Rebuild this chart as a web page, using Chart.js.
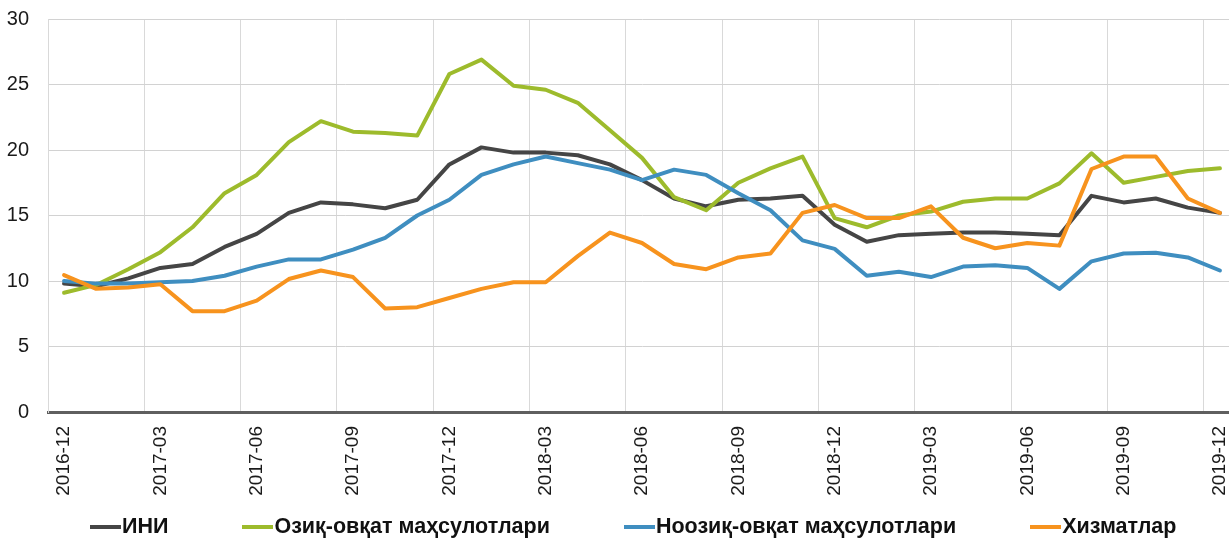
<!DOCTYPE html>
<html>
<head>
<meta charset="utf-8">
<script src="https://cdn.jsdelivr.net/npm/chart.js@4.4.1/dist/chart.umd.min.js"></script>
<style>
  html, body { margin: 0; padding: 0; background: #fff; overflow: hidden; }
  #wrap { position: relative; width: 1236px; height: 539px; }
  #legenda { position: absolute; left: 90px; top: 514px; height: 25px; display: flex; gap: 74px;
             font: bold 21.5px 'Liberation Sans', Arial, sans-serif; color: #111; white-space: nowrap; }
  #legenda .item { display: flex; align-items: center; gap: 1px; }
  #legenda .marca { display: inline-block; width: 31px; height: 4px; }
</style>
</head>
<body>
<div id="wrap"><canvas id="grafico"></canvas><div id="legenda"></div></div>
<script>
const meses = ['2016-12','2017-01','2017-02','2017-03','2017-04','2017-05','2017-06','2017-07','2017-08','2017-09','2017-10','2017-11',
               '2017-12','2018-01','2018-02','2018-03','2018-04','2018-05','2018-06','2018-07','2018-08','2018-09','2018-10','2018-11',
               '2018-12','2019-01','2019-02','2019-03','2019-04','2019-05','2019-06','2019-07','2019-08','2019-09','2019-10','2019-11','2019-12'];

const ini      = [9.8, 9.6, 10.2, 11.0, 11.3, 12.6, 13.6, 15.2, 16.0, 15.85, 15.55, 16.2,
                  18.9, 20.2, 19.8, 19.8, 19.6, 18.9, 17.7, 16.3, 15.7, 16.2, 16.3, 16.5,
                  14.3, 13.0, 13.5, 13.6, 13.7, 13.7, 13.6, 13.5, 16.5, 16.0, 16.3, 15.6, 15.2];
const ozuq     = [9.1, 9.7, 10.9, 12.2, 14.1, 16.7, 18.1, 20.6, 22.2, 21.4, 21.3, 21.1,
                  25.8, 26.9, 24.9, 24.6, 23.6, 21.5, 19.4, 16.4, 15.4, 17.5, 18.6, 19.5,
                  14.8, 14.1, 15.0, 15.3, 16.05, 16.3, 16.3, 17.45, 19.75, 17.5, 17.95, 18.4, 18.6];
const noozuq   = [10.0, 9.8, 9.8, 9.9, 10.0, 10.4, 11.1, 11.65, 11.65, 12.4, 13.3, 15.0,
                  16.2, 18.1, 18.9, 19.5, 19.0, 18.5, 17.7, 18.5, 18.1, 16.7, 15.4, 13.1,
                  12.45, 10.4, 10.7, 10.3, 11.1, 11.2, 11.0, 9.4, 11.5, 12.1, 12.15, 11.8, 10.8];
const xizmatlar = [10.45, 9.4, 9.5, 9.75, 7.7, 7.7, 8.5, 10.15, 10.8, 10.3, 7.9, 8.0,
                   8.7, 9.4, 9.9, 9.9, 11.9, 13.7, 12.9, 11.3, 10.9, 11.8, 12.1, 15.2,
                   15.8, 14.8, 14.8, 15.7, 13.3, 12.5, 12.9, 12.7, 18.55, 19.5, 19.5, 16.3, 15.2];

const nomes = ['ИНИ', 'Озиқ-овқат маҳсулотлари', 'Ноозиқ-овқат маҳсулотлари', 'Хизматлар'];
const cores = ['#454545', '#9dbb2c', '#3f8ec0', '#f7931e'];

Chart.defaults.font.family = "'Liberation Sans', Arial, sans-serif";
Chart.defaults.color = '#1a1a1a';

// Excel desenha a última série por cima: order menor = desenhado por cima
const linha = (i, data) => ({
    label: nomes[i],
    data,
    borderColor: cores[i],
    backgroundColor: cores[i],
    borderWidth: 4,
    pointRadius: 0,
    pointHoverRadius: 0,
    tension: 0,
    borderJoinStyle: 'round',
    borderCapStyle: 'round',
    order: 3 - i
});

// Legenda em HTML, montada a partir dos datasets do gráfico
const legendaHtml = {
    id: 'legendaHtml',
    afterUpdate(chart) {
        const box = document.getElementById('legenda');
        box.innerHTML = '';
        chart.data.datasets.forEach(ds => {
            box.innerHTML += '<span class="item"><span class="marca" style="background:' + ds.borderColor + '"></span>' + ds.label + '</span>';
        });
    }
};

const ctx = document.getElementById('grafico').getContext('2d');
new Chart(ctx, {
    type: 'line',
    data: {
        labels: meses,
        datasets: [linha(0, ini), linha(1, ozuq), linha(2, noozuq), linha(3, xizmatlar)]
    },
    plugins: [legendaHtml],
    options: {
        responsive: true,
        maintainAspectRatio: false,
        animation: false,
        layout: { padding: { top: 19, left: 0, right: 0, bottom: 27 } },
        plugins: {
            tooltip: { enabled: false },
            legend: { display: false }
        },
        scales: {
            x: {
                offset: true,
                afterFit: s => { s.height = 100; s.paddingLeft = 0; s.paddingRight = 0; },
                grid: {
                    offset: true,
                    drawTicks: false,
                    lineWidth: 1,
                    color: c => c.index % 3 === 0 ? '#d9d9d9' : 'rgba(0,0,0,0)'
                },
                border: { display: true, color: '#5f5f5f', width: 3 },
                ticks: {
                    autoSkip: false,
                    minRotation: 90,
                    maxRotation: 90,
                    padding: 14,
                    font: { size: 19 },
                    callback: (v, i) => i % 3 === 0 ? meses[i] : ''
                }
            },
            y: {
                min: 0,
                max: 30,
                afterFit: s => { s.width = 48; s.paddingTop = 0; s.paddingBottom = 0; },
                grid: { drawTicks: false, color: '#d2d2d2', lineWidth: 1 },
                border: { display: true, color: '#d9d9d9', width: 1 },
                ticks: { stepSize: 5, padding: 19, font: { size: 20 } }
            }
        }
    }
});
</script>
</body>
</html>
